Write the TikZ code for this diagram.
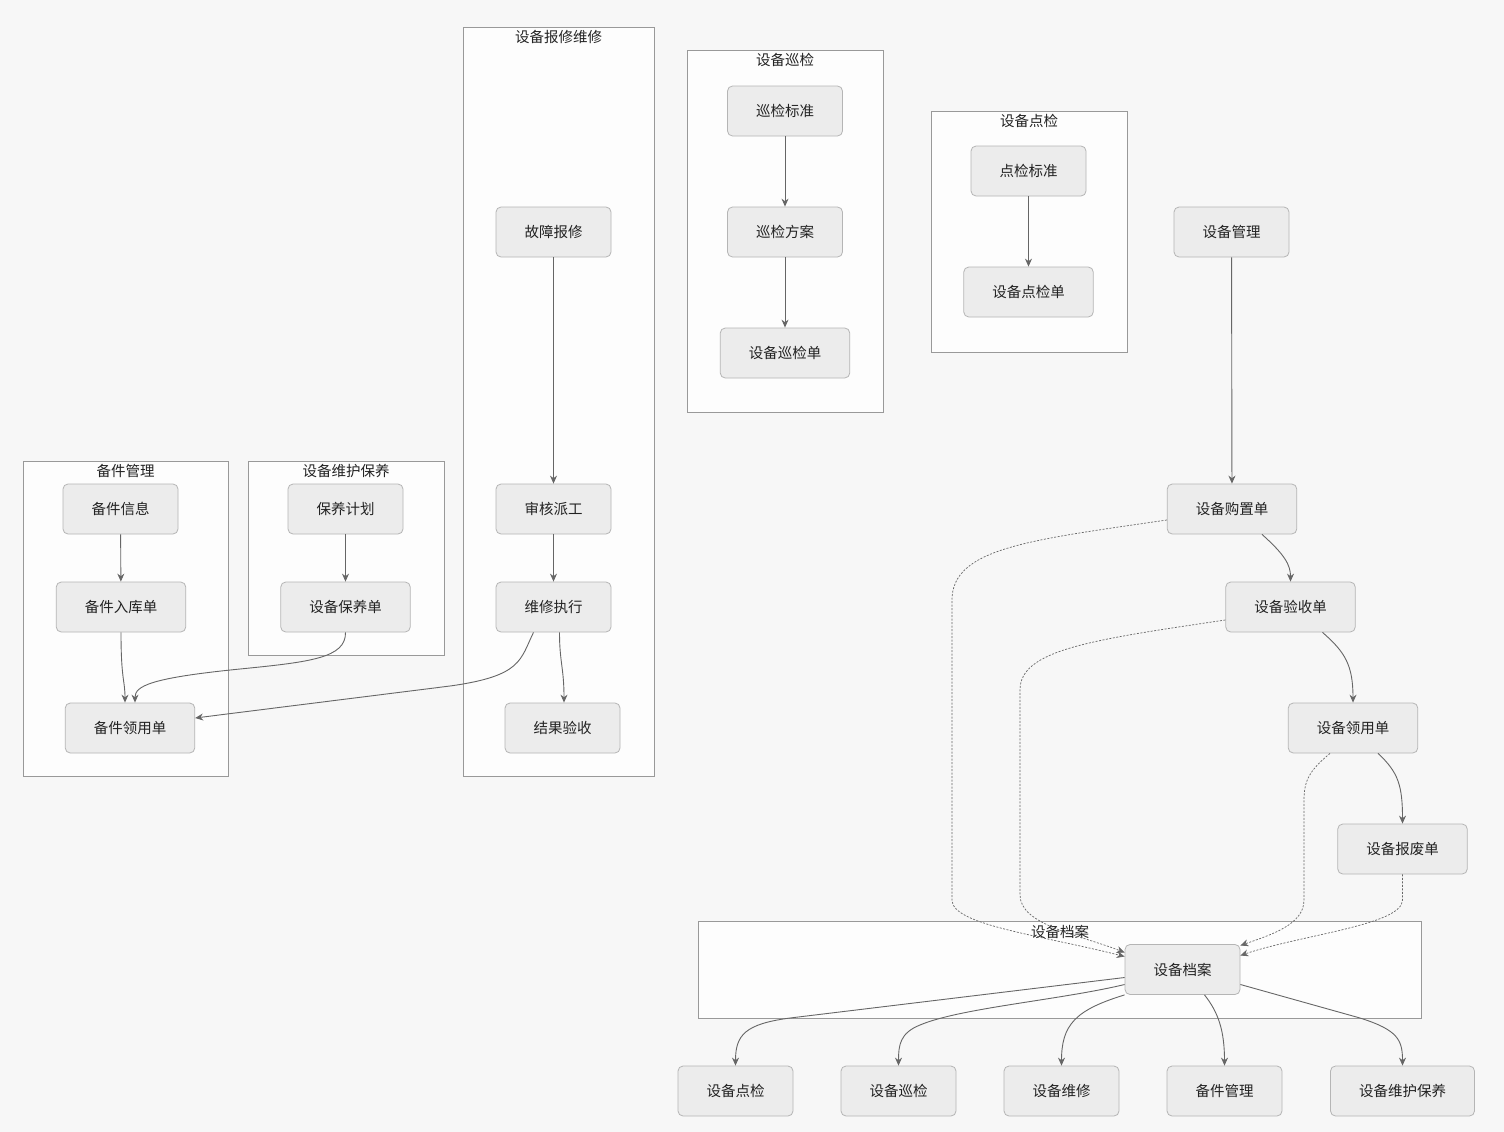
\documentclass[tikz,border=0pt]{standalone}
\usepackage{fontspec}
\setmainfont{Noto Sans CJK SC}
\usetikzlibrary{arrows.meta}
\definecolor{bgc}{HTML}{F7F7F7}
\definecolor{boxfill}{HTML}{ECECEC}
\definecolor{boxline}{HTML}{B5B5B5}
\definecolor{grpline}{HTML}{999999}
\definecolor{grpfill}{HTML}{FDFDFD}
\definecolor{edgec}{HTML}{666666}
\definecolor{txtc}{HTML}{222222}
\begin{document}
\begin{tikzpicture}[x = 1pt, y = -1pt,
	box/.style = {draw = boxline, fill = boxfill, rounded corners = 5pt, line width = .8pt,
		minimum height = 50pt, inner xsep = 28.5pt, text = txtc, font = \fontsize{14.5}{17}\selectfont},
	grp/.style = {draw = grpline, fill = grpfill, line width = .9pt},
	grplabel/.style = {text = txtc, font = \fontsize{14.5}{17}\selectfont},
	flow/.style = {draw = edgec, line width = .9pt, -{Stealth[length = 8pt, width = 7pt]}},
	link/.style = {flow, dash pattern = on 2pt off 1.5pt, line width = .7pt}]
	\useasboundingbox[fill = bgc] (0,0) rectangle (1504,1132);
	\draw[grp] (463,27) rectangle (654,776);
	\draw[grp] (687,50) rectangle (883,412);
	\draw[grp] (931,111) rectangle (1127,352);
	\draw[grp] (23,461) rectangle (228,776);
	\draw[grp] (248,461) rectangle (444,655);
	\draw[grp] (698,921) rectangle (1421,1018);
	\node[grplabel] (gbx) at (558.5,37) {设备报修维修};
	\node[grplabel] (gxj) at (785,60) {设备巡检};
	\node[grplabel] (gdj) at (1029,121) {设备点检};
	\node[grplabel] (gbj) at (125.5,471) {备件管理};
	\node[grplabel] (gby) at (346,471) {设备维护保养};
	\node[grplabel] (gda) at (1060,932) {设备档案};
	\node[box] (gzbx) at (553.5,232) {故障报修};
	\node[box] (shpg) at (553.5,509) {审核派工};
	\node[box] (wxzx) at (553.5,607) {维修执行};
	\node[box] (jgys) at (562.5,728) {结果验收};
	\node[box] (xjbz) at (785,111) {巡检标准};
	\node[box] (xjfa) at (785,232) {巡检方案};
	\node[box] (xjd) at (785,353) {设备巡检单};
	\node[box] (djbz) at (1028.5,171) {点检标准};
	\node[box] (djd) at (1028.5,292) {设备点检单};
	\node[box] (sbgl) at (1231.5,232) {设备管理};
	\node[box] (gzd) at (1232,509) {设备购置单};
	\node[box] (ysd) at (1290.5,607) {设备验收单};
	\node[box] (lyd) at (1353,728) {设备领用单};
	\node[box] (bfd) at (1402.5,849) {设备报废单};
	\node[box] (sbda) at (1182.5,969.5) {设备档案};
	\node[box] (bjxx) at (120.5,509) {备件信息};
	\node[box] (bjrk) at (121,607) {备件入库单};
	\node[box] (bjly) at (130,728) {备件领用单};
	\node[box] (byjh) at (345.5,509) {保养计划};
	\node[box] (byd) at (345.5,607) {设备保养单};
	\node[box] (odj) at (735.5,1091) {设备点检};
	\node[box] (oxj) at (898.5,1091) {设备巡检};
	\node[box] (owx) at (1061.5,1091) {设备维修};
	\node[box] (obj) at (1224.5,1091) {备件管理};
	\node[box] (oby) at (1402.5,1091) {设备维护保养};
	\draw[flow] (gzbx) -- (shpg);
	\draw[flow] (shpg) -- (wxzx);
	\draw[flow] ([xshift = 6pt]wxzx.south) .. controls +(0,30) and +(0,-35) .. ([xshift = 1.5pt]jgys.north);
	\draw[flow] ([xshift = -20pt]wxzx.south) .. controls (520,660) and (522,676) .. (450,686) -- ([yshift = 10pt]bjly.east);
	\draw[flow] (xjbz) -- (xjfa);
	\draw[flow] (xjfa) -- (xjd);
	\draw[flow] (djbz) -- (djd);
	\draw[flow] (bjxx) -- (bjrk);
	\draw[flow] (bjrk.south) .. controls (121,680) and (125,680) .. ([xshift = -5pt]bjly.north);
	\draw[flow] (byjh) -- (byd);
	\draw[flow] (byd.south) .. controls (346,658) and (310,662) .. (240,669) .. controls (150,678) and (135,686) .. ([xshift = 5pt]bjly.north);
	\draw[flow] (sbgl) -- (gzd);
	\draw[flow] ([xshift = 30pt]gzd.south) .. controls (1285,555) and (1290.5,565) .. (ysd.north);
	\draw[flow] ([xshift = 32pt]ysd.south) .. controls (1345,652) and (1353,665) .. (lyd.north);
	\draw[flow] ([xshift = 25pt]lyd.south) .. controls (1398,772) and (1402.5,785) .. (bfd.north);
	\draw[link] ([yshift = -11pt]gzd.west) .. controls (1030,540) and (952,548) .. (952,600) -- (952,900) .. controls (952,925) and (1040,935) .. ([yshift = 13pt]sbda.west);
	\draw[link] ([yshift = -13pt]ysd.west) .. controls (1090,640) and (1020,650) .. (1020,690) -- (1020,895) .. controls (1020,925) and (1080,935) .. ([yshift = 17pt]sbda.west);
	\draw[link] ([xshift = -23pt]lyd.south) .. controls (1310,770) and (1304,780) .. (1304,800) -- (1304,900) .. controls (1304,925) and (1270,935) .. ([yshift = 24pt]sbda.east);
	\draw[link] (bfd.south) -- (1402.5,900) .. controls (1402.5,925) and (1300,935) .. ([yshift = 14pt]sbda.east);
	\draw[flow] ([yshift = -8pt]sbda.west) -- (790,1018) .. controls (745,1024) and (735.5,1035) .. (odj.north);
	\draw[flow] ([yshift = -15pt]sbda.west) .. controls (1060,1000) and (960,1008) .. (920,1025) .. controls (900,1033) and (898.5,1045) .. (oxj.north);
	\draw[flow] (sbda.south west) .. controls (1075,1010) and (1061.5,1025) .. (owx.north);
	\draw[flow] ([xshift = 22pt]sbda.south) .. controls (1218,1012) and (1224.5,1030) .. (obj.north);
	\draw[flow] ([yshift = -15pt]sbda.east) -- (1360,1018) .. controls (1398,1030) and (1402.5,1040) .. (oby.north);
\end{tikzpicture}
\end{document}
